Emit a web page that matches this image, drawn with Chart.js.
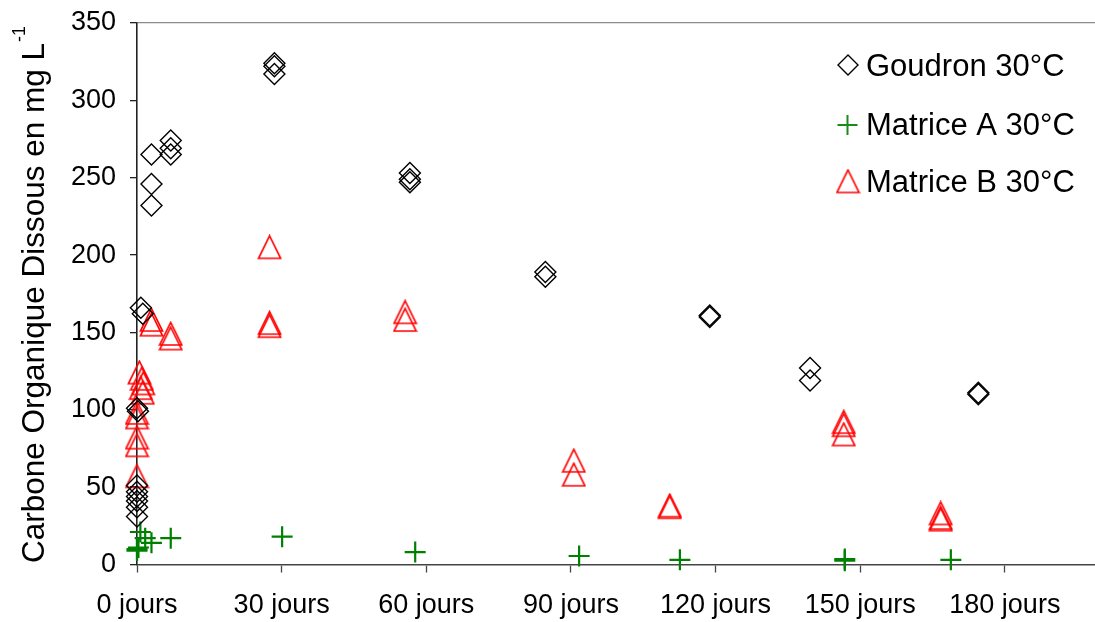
<!DOCTYPE html>
<html>
<head>
<meta charset="utf-8">
<script src="https://cdn.jsdelivr.net/npm/chart.js@4/dist/chart.umd.min.js"></script>
<style>
  html, body { margin: 0; padding: 0; background: #fff; overflow: hidden; }
  canvas { display: block; }
</style>
</head>
<body>
<canvas id="chart" width="1095" height="622"></canvas>
<script>
const FONT = "'Liberation Sans', Arial, sans-serif";

// x = jours, y = COD en mg L-1
const goudronX = [0.8, 1.2, 0, 0.2, 0, 0, 0, 0, 0, 0, 3, 3, 3, 7, 7, 7, 28.5, 28.5, 28.5, 56.6, 56.6, 56.6, 84.7, 84.7, 118.8, 118.8, 139.6, 139.6, 174.5, 174.5];
const goudronY = [166, 162, 101, 99, 51, 47, 44, 41, 37, 31, 265, 246, 232, 274, 269, 265, 324, 322, 317, 253, 249, 247, 189, 186, 161, 160, 127, 119, 111, 110];

const matriceAX = [0, 0, 0.3, 0.7, 1.7, 3, 7, 30.1, 57.7, 91.7, 112.6, 146.8, 146.8, 168.8];
const matriceAY = [10, 9, 11, 21, 17, 14, 17, 18, 8, 5.5, 3, 3.5, 2.5, 3];

const matriceBX = [0.5, 1, 1.3, 0.8, 1.2, 0, 0, 0, 0, 0, 3, 3, 7, 7, 27.5, 27.5, 27.5, 55.6, 55.6, 90.6, 90.6, 110.5, 110.5, 146.6, 146.6, 146.6, 166.7, 166.7, 166.7];
const matriceBY = [124, 120, 117, 114, 111, 98, 95, 82, 77, 57, 158, 155, 149, 146, 205, 156, 154, 163, 158, 67, 58, 38, 37, 92, 90, 84, 33, 30, 29];

const xTicks = [0, 30, 60, 90, 120, 150, 180];
const seriesNames = ['Goudron 30°C', 'Matrice A 30°C', 'Matrice B 30°C'];
const yTitle = 'Carbone Organique Dissous en mg L';
const yTitleSup = '-1';

const pts = (xs, ys) => xs.map((x, i) => ({ x, y: ys[i] }));

function triangleMarker() {
  const c = document.createElement('canvas');
  c.width = 25; c.height = 26;
  const g = c.getContext('2d');
  g.strokeStyle = '#ff0000';
  g.lineWidth = 1.7;
  g.beginPath();
  g.moveTo(12.5, 1.5);
  g.lineTo(23.5, 24);
  g.lineTo(1.5, 24);
  g.closePath();
  g.stroke();
  return c;
}
const tri = triangleMarker();

const legendPlugin = {
  id: 'legendBox',
  afterDraw(chart) {
    const ctx = chart.ctx;
    ctx.save();
    ctx.font = `31px ${FONT}`;
    ctx.fillStyle = '#000';
    ctx.textBaseline = 'alphabetic';
    ctx.textAlign = 'left';
    const rows = [76, 135, 191.5];
    // diamond
    ctx.strokeStyle = '#000'; ctx.lineWidth = 1.4;
    ctx.beginPath();
    ctx.moveTo(848, 55); ctx.lineTo(858, 65); ctx.lineTo(848, 75); ctx.lineTo(838, 65); ctx.closePath();
    ctx.stroke();
    // cross
    ctx.strokeStyle = '#1a8a1a'; ctx.lineWidth = 2;
    ctx.beginPath();
    ctx.moveTo(837.5, 125); ctx.lineTo(857.5, 125);
    ctx.moveTo(847.5, 115); ctx.lineTo(847.5, 135);
    ctx.stroke();
    // triangle
    ctx.drawImage(tri, 848 - 12.5, 181.5 - 13);
    seriesNames.forEach((n, i) => ctx.fillText(n, 866, rows[i]));
    ctx.restore();
  }
};

const yTitlePlugin = {
  id: 'yTitle',
  afterDraw(chart) {
    const ctx = chart.ctx;
    ctx.save();
    ctx.translate(43.5, 563);
    ctx.rotate(-Math.PI / 2);
    ctx.fillStyle = '#000';
    ctx.textBaseline = 'alphabetic';
    ctx.textAlign = 'left';
    ctx.font = `31.5px ${FONT}`;
    ctx.fillText(yTitle, 0, 0);
    const w = ctx.measureText(yTitle).width;
    ctx.font = `18px ${FONT}`;
    ctx.fillText(yTitleSup, w + 1, -18.5);
    ctx.restore();
  }
};

new Chart(document.getElementById('chart'), {
  type: 'scatter',
  data: {
    datasets: [
      {
        label: seriesNames[0],
        data: pts(goudronX, goudronY),
        pointStyle: 'rectRot',
        pointRadius: 10.5,
        pointHoverRadius: 10.5,
        pointBorderColor: '#000',
        pointBackgroundColor: 'rgba(0,0,0,0)',
        pointBorderWidth: 1.4,
        clip: false
      },
      {
        label: seriesNames[1],
        data: pts(matriceAX, matriceAY),
        pointStyle: 'cross',
        pointRadius: 10.5,
        pointHoverRadius: 10.5,
        pointBorderColor: '#008000',
        pointBackgroundColor: 'rgba(0,0,0,0)',
        pointBorderWidth: 2.2,
        clip: false
      },
      {
        label: seriesNames[2],
        data: pts(matriceBX, matriceBY),
        pointStyle: tri,
        pointRadius: 11,
        pointHoverRadius: 11,
        pointBorderColor: '#ff0000',
        pointBackgroundColor: 'rgba(0,0,0,0)',
        clip: false
      }
    ]
  },
  options: {
    responsive: false,
    animation: false,
    events: [],
    layout: { autoPadding: false, padding: { top: 23, right: 0, bottom: 0, left: 0 } },
    plugins: { legend: { display: false }, tooltip: { enabled: false } },
    scales: {
      x: {
        type: 'linear',
        min: 0,
        max: 198.7,
        afterBuildTicks: (s) => { s.ticks = xTicks.map(v => ({ value: v })); },
        afterFit: (s) => {
          s.height = 57.5;
          s.paddingLeft = 0; s.paddingRight = 0; s.paddingTop = 0; s.paddingBottom = 0;
        },
        ticks: {
          autoSkip: false,
          maxRotation: 0,
          padding: 17,
          color: '#000',
          font: { family: FONT, size: 27 },
          callback: (v) => v + ' jours'
        },
        grid: { drawOnChartArea: false, tickLength: 8, tickColor: '#444', tickWidth: 1.3 },
        border: { color: '#444', width: 1.6 }
      },
      y: {
        min: 0,
        max: 350,
        afterFit: (s) => {
          s.width = 137;
          s.paddingLeft = 0; s.paddingRight = 0; s.paddingTop = 0; s.paddingBottom = 0;
        },
        ticks: {
          stepSize: 50,
          padding: 14,
          color: '#000',
          font: { family: FONT, size: 27 }
        },
        grid: {
          color: (c) => (c.tick && c.tick.value === 350 ? '#8c8c8c' : 'rgba(0,0,0,0)'),
          lineWidth: 1.3,
          tickLength: 7,
          tickColor: '#222',
          tickWidth: 1.3
        },
        border: { color: '#222', width: 1.6 }
      }
    }
  },
  plugins: [legendPlugin, yTitlePlugin]
});
</script>
</body>
</html>
